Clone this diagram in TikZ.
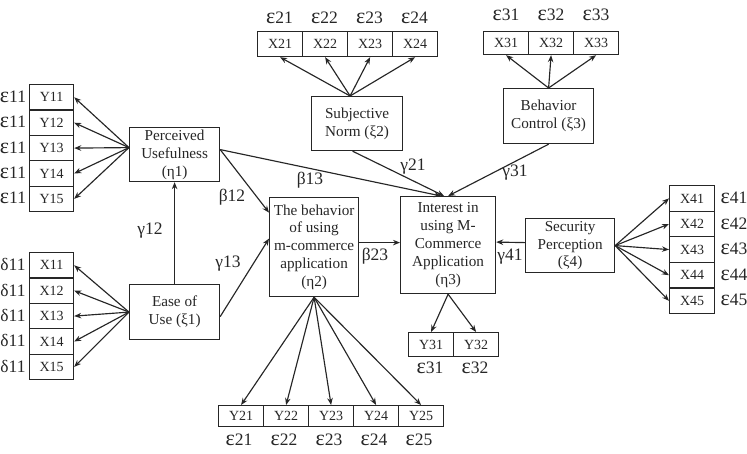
\documentclass[tikz,border=0pt]{standalone}
\usepackage{fontspec}
\setmainfont{Liberation Serif}
\usetikzlibrary{arrows.meta}
\definecolor{ink}{HTML}{262626}
\newcommand{\boxfont}{\fontsize{15.2}{17.8}\selectfont}
\newcommand{\indfont}{\fontsize{14}{15}\selectfont}
\newcommand{\labfont}{\fontsize{17.5}{19}\selectfont}
\newcommand{\epsl}{{\fontsize{22}{19}\selectfont ε}}
\begin{document}
\begin{tikzpicture}[x=1pt,y=-1pt,
  box/.style={draw=ink, text=ink, line width=1.2pt, inner sep=0pt, align=center, font=\boxfont, anchor=north west},
  ind/.style={draw=ink, text=ink, line width=1.2pt, inner sep=0pt, font=\indfont, anchor=north west},
  lab/.style={font=\labfont, text=ink, inner sep=0pt},
  arr/.style={draw=ink, line width=1.15pt, -{Stealth[length=7pt,width=5.5pt]}}]
\useasboundingbox (0,0) rectangle (747,454);

% latent boxes
\node[box, minimum width=90pt, minimum height=54pt] (pu) at (129,127) {Perceived\\Usefulness\\(η1)};
\node[box, minimum width=90pt, minimum height=55pt] (eu) at (129,284) {Ease of\\Use (ξ1)};
\node[box, minimum width=91pt, minimum height=54pt] (sn) at (311,96) {Subjective\\Norm (ξ2)};
\node[box, minimum width=90pt, minimum height=55pt] (bc) at (503,88) {Behavior\\Control (ξ3)};
\node[box, minimum width=89pt, minimum height=99pt] (bh) at (269,197) {The behavior\\of using\\m-commerce\\application\\(η2)};
\node[box, minimum width=95pt, minimum height=97pt] (ii) at (400,196) {Interest in\\using M-\\Commerce\\Application\\(η3)};
\node[box, minimum width=89pt, minimum height=54pt] (sp) at (525,218) {Security\\Perception\\(ξ4)};

% Y1 indicators
\foreach \i in {1,...,5}{
  \pgfmathsetmacro\t{84+25.4*(\i-1)}
  \node[ind, minimum width=44pt, minimum height=25.4pt] (y1\i) at (29,\t) {Y1\i};
  \node[lab] (ey1\i) at (13,\t+12.7) {\epsl11};
}
% X1 indicators
\foreach \i in {1,...,5}{
  \pgfmathsetmacro\t{252+25.4*(\i-1)}
  \node[ind, minimum width=44pt, minimum height=25.4pt] (x1\i) at (29,\t) {X1\i};
  \node[lab] (dx1\i) at (13,\t+12.7) {δ11};
}
% X4 indicators
\foreach \i in {1,...,5}{
  \pgfmathsetmacro\t{185+25.6*(\i-1)}
  \node[ind, minimum width=45pt, minimum height=25.6pt] (x4\i) at (669,\t) {X4\i};
  \node[lab] (ex4\i) at (734,\t+12.8) {\epsl4\i};
}
% X2 indicators
\foreach \i in {1,...,4}{
  \pgfmathsetmacro\s{257+45*(\i-1)}
  \node[ind, minimum width=45pt, minimum height=25pt] (x2\i) at (\s,31) {X2\i};
  \node[lab] (ex2\i) at (\s+22.5,18) {\epsl2\i};
}
% X3 indicators
\foreach \i in {1,...,3}{
  \pgfmathsetmacro\s{483+45*(\i-1)}
  \node[ind, minimum width=45pt, minimum height=23pt] (x3\i) at (\s,31) {X3\i};
  \node[lab] (ex3\i) at (\s+23,15) {\epsl3\i};
}
% Y2 indicators
\foreach \i in {1,...,5}{
  \pgfmathsetmacro\s{218+45*(\i-1)}
  \node[ind, minimum width=45pt, minimum height=21pt] (y2\i) at (\s,405) {Y2\i};
  \node[lab] (ey2\i) at (\s+21,440) {\epsl2\i};
}
% Y3 indicators
\foreach \i in {1,2}{
  \pgfmathsetmacro\s{408+45*(\i-1)}
  \node[ind, minimum width=45pt, minimum height=24pt] (y3\i) at (\s,332) {Y3\i};
  \node[lab] (ey3\i) at (\s+22,368) {\epsl3\i};
}

% fan-out arrows
\coordinate (pufan) at ([yshift=7pt]pu.west);
\foreach \i in {1,...,5} \draw[arr] (pufan) -- (y1\i.east);
\foreach \i in {1,...,5} \draw[arr] (eu.west) -- (x1\i.east);
\foreach \i in {1,...,5} \draw[arr] (sp.east) -- (x4\i.west);
\coordinate (snfan) at ([xshift=-7pt]sn.north);
\foreach \i in {1,...,4} \draw[arr] (snfan) -- (x2\i.south);
\foreach \i in {1,...,3} \draw[arr] (bc.north) -- (x3\i.south);
\foreach \i in {1,...,5} \draw[arr] (bh.south) -- (y2\i.north);
\foreach \i in {1,2} \draw[arr] (ii.south) -- (y3\i.north);

% structural paths
\draw[arr] (eu.north) -- (pu.south);
\draw[arr] ([yshift=5pt]pu.east) -- ([yshift=34.5pt]bh.west);
\draw[arr] ([yshift=-4.5pt]eu.east) -- ([yshift=8.5pt]bh.west);
\draw[arr] ([yshift=5pt]pu.east) -- ([xshift=-7pt]ii.north);
\draw[arr] ([xshift=-4.5pt]sn.south) -- ([xshift=-4pt]ii.north);
\draw[arr] (bc.south) -- (ii.north);
\draw[arr] ([yshift=4.5pt]bh.east) -- ([yshift=2.5pt]ii.west);
\draw[arr] ([yshift=3pt]sp.west) -- ([yshift=3pt]ii.east);

% path labels
\node[lab] (g12) at (150,231) {γ12};
\node[lab] (b12) at (232,197) {β12};
\node[lab] (b13) at (310,180) {β13};
\node[lab] (g21) at (413,167) {γ21};
\node[lab] (g31) at (515,173) {γ31};
\node[lab] (g13) at (228,264) {γ13};
\node[lab] (b23) at (375,256) {β23};
\node[lab] (g41) at (510,257) {γ41};
\end{tikzpicture}
\end{document}
